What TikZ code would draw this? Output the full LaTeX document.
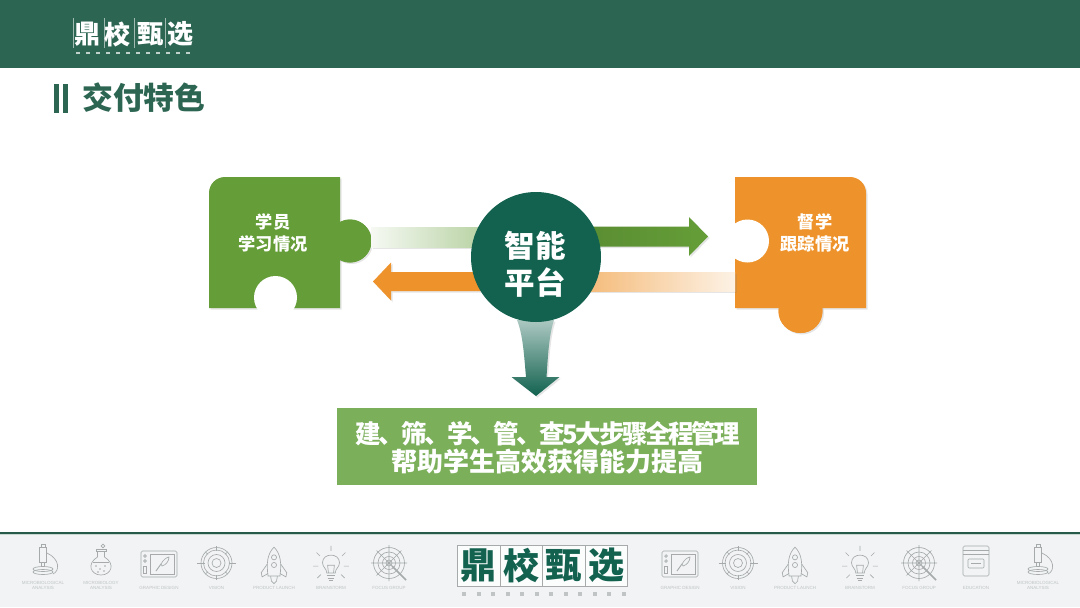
\documentclass[tikz,border=0pt]{standalone}
\usepackage{fontspec}
\newfontfamily\cjk{Noto Sans CJK SC}
\setsansfont{Liberation Sans}
\usepackage{xcolor}
\definecolor{primary}{HTML}{2C6552}
\definecolor{hubgreen}{HTML}{12624F}
\definecolor{leafgreen}{HTML}{659E38}
\definecolor{softgreen}{HTML}{7BAF5A}
\definecolor{amber}{HTML}{EE932B}
\definecolor{footbg}{HTML}{F1F3F4}
\definecolor{icongray}{HTML}{A6AAAA}
\definecolor{capgray}{HTML}{BFC3C3}
\usetikzlibrary{calc, shadows}

\newcommand{\cjksize}[1]{\cjk\bfseries\fontsize{#1}{#1}\selectfont}

\begin{document}
\begin{tikzpicture}[x=1pt, y=-1pt,
  pieceshadow/.style={drop shadow={opacity=.2, shadow xshift=1.5pt, shadow yshift=-1.5pt}},
  piecetext/.style={text=white, align=center, inner sep=0pt, font=\cjksize{17.2}},
  icon/.style={draw=icongray, line width=0.65pt},
  caption/.style={text=capgray, align=center, inner sep=0pt, font=\sffamily\fontsize{4.5}{5.2}\selectfont}
]
  \useasboundingbox (0,0) rectangle (1080,608);
  \fill[white] (0,0) rectangle (1080,608);

  % Header
  \fill[primary] (0,0) rectangle (1080,68);
  \foreach \lx in {73,104,134,165} \draw[white!55!primary, line width=0.35pt] (\lx,18) -- (\lx,48);
  \foreach \ch/\cx [count=\ci from 0] in {鼎/87,校/117.5,甄/150,选/180}
    \node[text=white, inner sep=0pt, font=\cjksize{26}] (logo\ci) at (\cx,34) {\ch};
  \foreach \ci in {0,...,11} \fill[white!70!primary] (76+\ci*10,52) rectangle ++(4,1.6);

  % Title
  \fill[primary] (54,84) rectangle (58.5,113);
  \fill[primary] (63,84) rectangle (68,113);
  \node[text=primary, inner sep=0pt, anchor=west, font=\cjksize{30.8}] (title) at (82,98) {交付特色};

  \coordinate (hubc) at (536,257);
  \coordinate (stuedge) at (371,237);
  \coordinate (supedge) at (735,281.5);
  \coordinate (grntip) at (708,236.5);
  \coordinate (orgtip) at (373,281.5);
  \coordinate (downtip) at (536,396);

  % Student piece
  \fill[leafgreen, pieceshadow] (350,241) circle (21.5);
  \fill[leafgreen, pieceshadow] (209,308) [rounded corners=16pt] -- (209,177) [sharp corners] -- (340,177) -- (340,308) -- cycle;
  \fill[leafgreen] (335,222) rectangle (345,260);
  \fill[leafgreen] (350,241) circle (21.5);
  \fill[white] (275.5,297.5) circle (21.5);
  \fill[white] (250,309.5) rectangle (300,320);
  \node[piecetext] (stutext) at (273,233) {学员\\[5pt]学习情况};

  % Supervision piece
  \fill[amber, pieceshadow] (800.5,311) circle (22);
  \fill[amber, pieceshadow] (735,308) -- (735,177) [rounded corners=16pt] -- (866,177) [sharp corners] -- (866,308) -- cycle;
  \fill[amber] (795,300) rectangle (806,310);
  \fill[amber] (800.5,311) circle (22);
  \fill[white] (747.5,241) circle (21.5);
  \fill[white] (720,215) rectangle (734.8,268);
  \node[piecetext] (suptext) at (815,233) {督学\\[5pt]跟踪情况};

  % Connectors
  \shade[left color=leafgreen!6, right color=leafgreen!65, pieceshadow]
    ($(stuedge)+(0,-10)$) rectangle ($(hubc)+(0,-10)$);
  \shade[left color=leafgreen!85!black, right color=leafgreen, pieceshadow]
    (grntip) -- ++(-19,-19.5) -- ++(0,9.5) -- ++(-153,0) -- ++(0,20) -- ++(153,0) -- ++(0,9.5) -- cycle;
  \shade[left color=amber!80, right color=amber!12, pieceshadow]
    ($(hubc)+(0,15)$) rectangle ($(supedge)+(0,9.5)$);
  \fill[amber, pieceshadow]
    (orgtip) -- ++(18,-19) -- ++(0,9.5) -- ++(145,0) -- ++(0,19) -- ++(-145,0) -- ++(0,9.5) -- cycle;
  \shade[top color=hubgreen!35, bottom color=hubgreen, pieceshadow]
    (downtip) -- ($(downtip)+(-24.5,-19)$) -- ($(downtip)+(-10,-19)$)
    .. controls ($(downtip)+(-12,-41)$) and ($(downtip)+(-13,-61)$) .. ($(downtip)+(-19,-76)$)
    -- ($(downtip)+(18,-76)$)
    .. controls ($(downtip)+(13,-61)$) and ($(downtip)+(12,-41)$) .. ($(downtip)+(10.5,-19)$)
    -- ($(downtip)+(23.5,-19)$) -- cycle;

  % Platform
  \node[circle, fill=hubgreen, minimum size=130pt, inner sep=0pt] (platform) at (hubc) {};
  \node[text=white, align=center, inner sep=0pt, font=\cjksize{30.5}] (platformtext) at (535,264.5) {智能\\[6pt]平台};

  % Summary box
  \node[fill=softgreen, minimum width=420pt, minimum height=77pt, inner sep=0pt] (summary) at (547,446.5) {};
  \node[text=white, align=center, inner sep=0pt, font=\cjk\bfseries] (summarytext) at (547.5,447.5)
    {{\addfontfeature{LetterSpace=-9.5}\fontsize{25.5}{28}\selectfont 建、筛、学、管、查5大步骤全程管理}\\[2pt]
     {\fontsize{26}{28}\selectfont 帮助学生高效获得能力提高}};

  % Footer
  \fill[footbg] (0,534) rectangle (1080,607);
  \fill[primary!90!black] (0,532) rectangle (1080,534);
  \fill[primary!25] (0,534) rectangle (1080,535);

  \newcommand{\microicon}[1]{%
    \begin{scope}[shift={(#1,563)}]
      \draw[icon] (-2,-19) rectangle (2,-16);
      \draw[icon] (-3.5,-16) rectangle (3.5,-1);
      \draw[icon] (-1.5,-1) -- (-1.5,3) -- (1.5,3) -- (1.5,-1);
      \draw[icon] (4,-10) .. controls (17,-4) and (17,8) .. (10,11);
      \draw[icon] (0,6) ellipse (10 and 2.5);
      \draw[icon] (0,9) ellipse (10 and 2.5);
    \end{scope}}
  \newcommand{\flaskicon}[1]{%
    \begin{scope}[shift={(#1,563)}]
      \draw[icon] (2,-17) circle (1.8);
      \draw[icon] (-5,-14) rectangle (5,-11.5);
      \draw[icon] (-3.5,-11.5) -- (-3.5,-6) .. controls (-15,1) and (-10,12) .. (0,12)
        .. controls (10,12) and (15,1) .. (3.5,-6) -- (3.5,-11.5);
      \draw[icon] (-8,-1) -- (8,-1);
      \foreach \dx/\dy in {-5/3,-1/6,4/3,-3/9,3/8} \fill[icongray] (\dx,\dy) circle (0.8);
    \end{scope}}
  \newcommand{\tableticon}[1]{%
    \begin{scope}[shift={(#1,564)}]
      \draw[icon, rounded corners=1.5pt] (-18,-13) rectangle (18,13);
      \draw[icon] (-9,-10) rectangle (15,10);
      \draw[icon] (-14,-8) circle (1.3);
      \draw[icon] (-14,-3) circle (1.3);
      \draw[icon] (-15.5,2) rectangle (-12.5,9);
      \draw[icon, line width=0.9pt] (-3,7) -- (2,0);
      \draw[icon] (2,0) .. controls (4,-4) and (8,-7) .. (10,-7) .. controls (10,-3) and (7,1) .. (3,2) -- cycle;
    \end{scope}}
  \newcommand{\visionicon}[1]{%
    \begin{scope}[shift={(#1,563)}]
      \draw[icon] (0,0) circle (15.5);
      \draw[icon] (0,0) circle (13);
      \draw[icon] (0,0) circle (8.5);
      \draw[icon] (0,0) circle (4.5);
      \draw[icon] (-19.5,0) -- (-12,0) (12,0) -- (19.5,0) (0,-17) -- (0,-12) (0,12) -- (0,17);
      \draw[icon] (-11,-11) -- (-8.5,-8.5) (11,-11) -- (8.5,-8.5) (-11,11) -- (-8.5,8.5) (11,11) -- (8.5,8.5);
    \end{scope}}
  \newcommand{\rocketicon}[1]{%
    \begin{scope}[shift={(#1,565)}, scale=.85]
      \draw[icon] (0,-21) .. controls (-8,-13) and (-9,-2) .. (-7,13) -- (7,13)
        .. controls (9,-2) and (8,-13) .. (0,-21);
      \draw[icon] (0,-9) circle (3);
      \draw[icon] (0,0) circle (3);
      \draw[icon] (-8,-1) -- (-15,9) -- (-14,14) -- (-7,10);
      \draw[icon] (8,-1) -- (15,9) -- (14,14) -- (7,10);
      \draw[icon] (-4,13) -- (-3,19) -- (0,22) -- (3,19) -- (4,13);
    \end{scope}}
  \newcommand{\bulbicon}[1]{%
    \begin{scope}[shift={(#1,567)}, scale=.85]
      \draw[icon] (-5,7) .. controls (-5,2) and (-10,0) .. (-10,-5)
        .. controls (-10,-11) and (-5,-14) .. (0,-14)
        .. controls (5,-14) and (10,-11) .. (10,-5) .. controls (10,0) and (5,2) .. (5,7) -- cycle;
      \draw[icon] (-3,7) -- (-4,-2) -- (4,-2) -- (3,7);
      \draw[icon] (-5,10) -- (5,10) (-4,13) -- (4,13) (-2,16) -- (2,16);
      \draw[icon] (0,-19) -- (0,-25) (-13,-13) -- (-17,-17) (13,-13) -- (17,-17);
      \draw[icon] (-15,-1) -- (-21,-1) (15,-1) -- (21,-1) (-12,9) -- (-16,13) (12,9) -- (16,13);
    \end{scope}}
  \newcommand{\targeticon}[1]{%
    \begin{scope}[shift={(#1,563)}]
      \draw[icon] (0,0) circle (15.5);
      \draw[icon] (0,0) circle (11);
      \draw[icon] (0,0) circle (6.5);
      \draw[icon] (0,0) circle (3);
      \draw[icon] (-18,0) -- (18,0) (0,-18) -- (0,18) (-12.5,-12.5) -- (12.5,12.5) (12.5,-12.5) -- (-12.5,12.5);
      \draw[icon, line width=1.6pt] (3,3) -- (17,17);
    \end{scope}}
  \newcommand{\bookicon}[1]{%
    \begin{scope}[shift={(#1,561)}]
      \draw[icon, rounded corners=1.5pt] (-13,-15) rectangle (13,15);
      \draw[icon] (-13,-11) -- (13,-11) (-13,-7) -- (13,-7);
      \draw[icon, rounded corners=1pt] (-8,-2) rectangle (8,7);
      \draw[icon] (-5,2.5) -- (5,2.5);
    \end{scope}}

  \microicon{43}  \flaskicon{101} \tableticon{159} \visionicon{216.5}
  \rocketicon{274} \bulbicon{331} \targeticon{389}
  \tableticon{680} \visionicon{738} \rocketicon{795} \bulbicon{860}
  \targeticon{919} \bookicon{976} \microicon{1038}

  \node[caption] (cap1) at (43,585.5) {MICROBIOLOGICAL\\ANALYSIS};
  \node[caption] (cap2) at (101,585.5) {MICROBIOLOGY\\ANALYSIS};
  \node[caption] (cap3) at (159,588) {GRAPHIC DESIGN};
  \node[caption] (cap4) at (216.5,588) {VISION};
  \node[caption] (cap5) at (274,588) {PRODUCT LAUNCH};
  \node[caption] (cap6) at (331,588) {BRAINSTORM};
  \node[caption] (cap7) at (389,588) {FOCUS GROUP};
  \node[caption] (cap8) at (680,588) {GRAPHIC DESIGN};
  \node[caption] (cap9) at (738,588) {VISION};
  \node[caption] (cap10) at (795,588) {PRODUCT LAUNCH};
  \node[caption] (cap11) at (860,588) {BRAINSTORM};
  \node[caption] (cap12) at (919,588) {FOCUS GROUP};
  \node[caption] (cap13) at (976,588) {EDUCATION};
  \node[caption] (cap14) at (1038,585.5) {MICROBIOLOGICAL\\ANALYSIS};

  % Footer logo
  \foreach \ch [count=\ci from 0] in {鼎,校,甄,选} {
    \draw[icongray, fill=white!75!footbg, line width=0.7pt] (457.5+\ci*42.5,545) rectangle ++(42.5,41);
    \node[text=hubgreen, inner sep=0pt, font=\cjksize{36}] (flogo\ci) at (478.5+\ci*42.5,565.5) {\ch};
  }
  \foreach \ci in {0,...,11} \fill[icongray!70] (462+\ci*14.5,592) rectangle ++(4,3.5);
\end{tikzpicture}
\end{document}
